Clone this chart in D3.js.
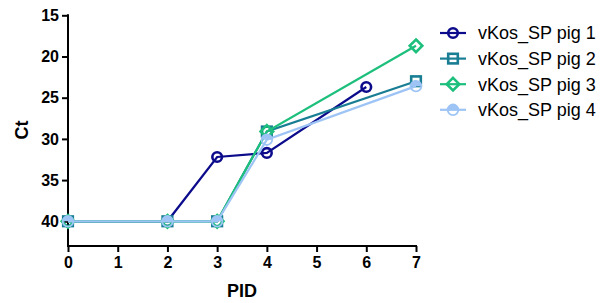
<!DOCTYPE html>
<html>
<head>
<meta charset="utf-8">
<script src="https://cdn.jsdelivr.net/npm/d3@7"></script>
<style>
  body { margin: 0; background: #fff; }
  text { font-family: "Liberation Sans", Arial, sans-serif; }
</style>
</head>
<body>
<div id="canvas"></div>
<script>
"use strict";

// data
const seriesNames = ["vKos_SP pig 1", "vKos_SP pig 2", "vKos_SP pig 3", "vKos_SP pig 4"];
const pig1 = [[0, 40], [2, 40], [3, 32.2], [4, 31.7], [6, 23.7]];
const pig2 = [[0, 40], [2, 40], [3, 40], [4, 29.1], [7, 23.0]];
const pig3 = [[0, 40], [2, 40], [3, 40], [4, 29.1], [7, 18.7]];
const pig4 = [[0, 40], [2, 40], [3, 40], [4, 30.1], [7, 23.6]];
const xTicks = [0, 1, 2, 3, 4, 5, 6, 7];
const yTicks = [15, 20, 25, 30, 35, 40];

const allSeries = [pig1, pig2, pig3, pig4];
const colors = ["#0b0b8c", "#197e94", "#1cbf7c", "#9dc4f5"];
const shapes = ["circle", "square", "diamond", "halfcircle"];

const width = 616, height = 303;
const svg = d3.select("#canvas").append("svg")
  .attr("width", width).attr("height", height);

const x = d3.scaleLinear().domain([0, 7]).range([68, 416]);
const y = d3.scaleLinear().domain([15, 43]).range([15.3, 246]);

// axes
const xAxis = svg.append("g")
  .attr("transform", `translate(0,${y(43)})`)
  .call(d3.axisBottom(x).tickValues(xTicks).tickFormat(d3.format("d")).tickSize(6).tickPadding(5));
const yAxis = svg.append("g")
  .attr("transform", `translate(${x(0)},0)`)
  .call(d3.axisLeft(y).tickValues(yTicks).tickFormat(d3.format("d")).tickSize(6).tickPadding(3));

[xAxis, yAxis].forEach(a => {
  a.select(".domain").attr("stroke", "#000").attr("stroke-width", 2);
  a.selectAll(".tick line").attr("stroke", "#000").attr("stroke-width", 2);
  a.selectAll(".tick text")
    .attr("fill", "#000")
    .attr("font-size", "16px")
    .attr("font-weight", "bold")
    .attr("font-family", "Liberation Sans, Arial, sans-serif");
});
// trim domain path ends (no outer tick caps)
xAxis.select(".domain").attr("d", `M${x(0) - 1},0H${x(7) + 1}`);
yAxis.select(".domain").attr("d", `M0,${y(15) - 1}V${y(43) + 1}`);

// axis titles
svg.append("text")
  .attr("x", 242).attr("y", 297)
  .attr("text-anchor", "middle")
  .attr("font-size", "18px").attr("font-weight", "bold")
  .text("PID");
svg.append("text")
  .attr("transform", `translate(28,130) rotate(-90)`)
  .attr("text-anchor", "middle")
  .attr("font-size", "18px").attr("font-weight", "bold")
  .text("Ct");

function drawMarker(g, shape, color, cx, cy) {
  const s = 2.6;
  if (shape === "circle") {
    g.append("circle").attr("cx", cx).attr("cy", cy).attr("r", 4.8)
      .attr("fill", "none").attr("stroke", color).attr("stroke-width", s);
  } else if (shape === "square") {
    g.append("rect").attr("x", cx - 4.8).attr("y", cy - 4.8)
      .attr("width", 9.6).attr("height", 9.6)
      .attr("fill", "none").attr("stroke", color).attr("stroke-width", s);
  } else if (shape === "diamond") {
    const r = 6.3;
    g.append("path")
      .attr("d", `M${cx},${cy - r}L${cx + r},${cy}L${cx},${cy + r}L${cx - r},${cy}Z`)
      .attr("fill", "none").attr("stroke", color).attr("stroke-width", s);
  } else {
    const r = 5.3;
    g.append("path")
      .attr("d", `M${cx - r},${cy}A${r},${r} 0 0 1 ${cx + r},${cy}Z`)
      .attr("fill", color);
    g.append("circle").attr("cx", cx).attr("cy", cy).attr("r", r)
      .attr("fill", "none").attr("stroke", color).attr("stroke-width", 1.8);
  }
}

const line = d3.line().x(d => x(d[0])).y(d => y(d[1]));

allSeries.forEach((data, i) => {
  const g = svg.append("g");
  g.append("path").datum(data)
    .attr("d", line)
    .attr("fill", "none")
    .attr("stroke", colors[i])
    .attr("stroke-width", 2.2);
  data.forEach(d => drawMarker(g, shapes[i], colors[i], x(d[0]), y(d[1])));
});

// legend
const legend = svg.append("g");
seriesNames.forEach((name, i) => {
  const ly = 33 + i * 25.6;
  legend.append("line")
    .attr("x1", 440).attr("x2", 466).attr("y1", ly).attr("y2", ly)
    .attr("stroke", colors[i]).attr("stroke-width", 2.2);
  drawMarker(legend, shapes[i], colors[i], 453, ly);
  legend.append("text")
    .attr("x", 478).attr("y", ly)
    .attr("dy", "0.35em")
    .attr("font-size", "18px")
    .attr("fill", "#000")
    .text(name);
});
</script>
</body>
</html>
